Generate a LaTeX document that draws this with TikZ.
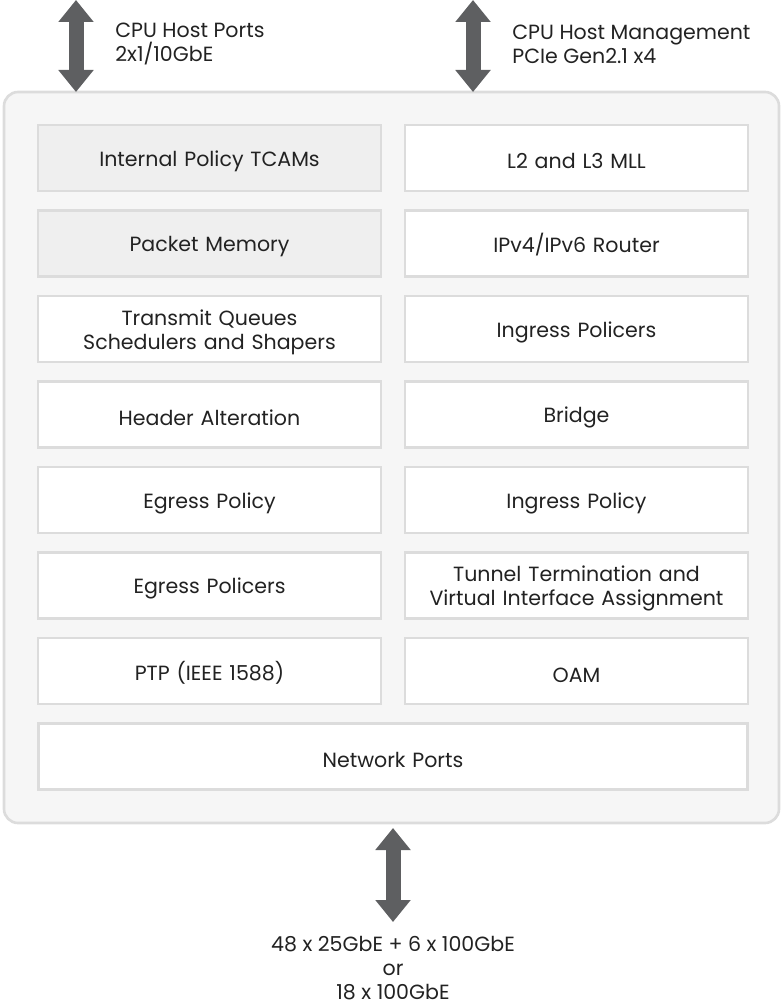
\documentclass[tikz,border=0pt]{standalone}
\usepackage{fontspec}
\setmainfont{Poppins}
\usetikzlibrary{arrows.meta,positioning}
\definecolor{busgray}{HTML}{5E5F61}
\definecolor{edgegray}{HTML}{DCDCDC}
\definecolor{panelgray}{HTML}{F6F6F6}
\definecolor{memgray}{HTML}{EFEFEF}
\definecolor{textgray}{HTML}{222222}
\tikzset{
  chip panel/.style={
    rectangle, rounded corners=8pt, draw=edgegray, line width=1.5pt,
    fill=panelgray, minimum width=15.5cm, minimum height=14.62cm,
    inner sep=0pt, outer sep=0pt
  },
  block/.style={
    rectangle, draw=edgegray, line width=1.2pt, fill=white,
    text=textgray, align=center, text width=6.6cm,
    minimum width=6.86cm, minimum height=1.32cm,
    inner sep=0pt, outer sep=0pt,
    font=\fontsize{11.7}{13.7}\selectfont,
    execute at begin node={\rule{0pt}{12.6pt}}
  },
  memblock/.style={block, fill=memgray},
  wide block/.style={block, text width=13.9cm, minimum width=14.18cm},
  bus label/.style={text=textgray, align=left, inner sep=0pt,
    font=\fontsize{11.7}{13.7}\selectfont},
  bus arrow/.style={{Triangle[width=0.68cm,length=0.44cm]}-{Triangle[width=0.68cm,length=0.44cm]},
    line width=0.3cm, busgray}
}
\begin{document}
\begin{tikzpicture}[node distance=0.39cm and 0.48cm]
    \useasboundingbox (0,0) rectangle (15.66,-20.1);
    \node[chip panel] (chip) at (7.83,-9.15) {};
    % left column
    \node[memblock] (tcam) at (4.19,-3.16) {Internal Policy TCAMs};
    \node[memblock, below=of tcam] (pktmem) {Packet Memory};
    \node[block, below=of pktmem] (txq) {Transmit Queues\\Schedulers and Shapers};
    \node[block, below=of txq] (hdralt) {Header Alteration};
    \node[block, below=of hdralt] (egpolicy) {Egress Policy};
    \node[block, below=of egpolicy] (egpolicers) {Egress Policers};
    \node[block, below=of egpolicers] (ptp) {PTP (IEEE 1588)};
    % right column
    \node[block, right=of tcam] (mll) {L2 and L3 MLL};
    \node[block, below=of mll] (router) {IPv4/IPv6 Router};
    \node[block, below=of router] (ingpolicers) {Ingress Policers};
    \node[block, below=of ingpolicers] (bridge) {Bridge};
    \node[block, below=of bridge] (ingpolicy) {Ingress Policy};
    \node[block, below=of ingpolicy] (tunnel) {Tunnel Termination and\\Virtual Interface Assignment};
    \node[block, below=of tunnel] (oam) {OAM};
    \node[wide block, below=of ptp.south east, anchor=north, xshift=0.24cm] (netports) {Network Ports};
    % host side
    \coordinate (hostports) at (1.52,0);
    \coordinate (hostmgmt) at (9.46,0);
    \node[bus label, anchor=west] (hostportslabel) at (2.3,-0.88) {CPU Host Ports\\2x1/10GbE};
    \node[bus label, anchor=west] (hostmgmtlabel) at (10.24,-0.88) {CPU Host Management\\PCIe Gen2.1 x4};
    \draw[bus arrow] (hostports) -- (hostports |- chip.north);
    \draw[bus arrow] (hostmgmt) -- (hostmgmt |- chip.north);
    % line side
    \node[bus label, align=center] (linelabel) at (7.86,-19.37) {48 x 25GbE + 6 x 100GbE\\or\\18 x 100GbE};
    \coordinate (lineside) at (7.86,-18.44);
    \draw[bus arrow] ([yshift=-0.1cm]lineside |- chip.south) -- (lineside);
  \end{tikzpicture}
\end{document}
